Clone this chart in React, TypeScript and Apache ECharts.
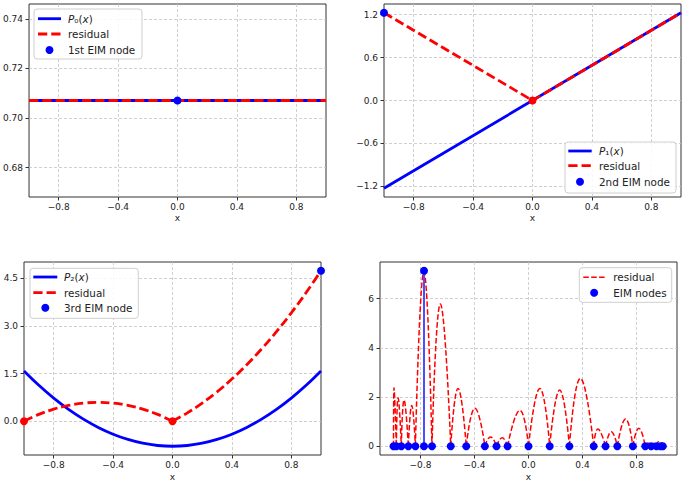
import React, { useEffect, useRef } from 'react';
import * as echarts from 'echarts';

const FONT = 'DejaVu Sans';
const BLUE = '#0000ff';
const RED = '#ff0000';
const TEXT = '#222222';

// ---------- Panel 1 : P0 ----------
const p0X = [-1, 1];
const p0Values = [0.7071, 0.7071];
const p0Residual = [0.7071, 0.7071];
const p0NewNode = [0, 0.7071];

// ---------- Panel 2 : P1 ----------
const p1X = [-1, 1];
const p1Values = [-1.2247, 1.2247];
const p1ResX = [-1, 0, 1];
const p1Residual = [1.2247, 0, 1.2247];
const p1OldNodes = [[0, 0]];
const p1NewNode = [-1, 1.2247];

// ---------- Panel 3 : P2 ----------
const p2X = [-1, -0.9, -0.8, -0.7, -0.6, -0.5, -0.4, -0.3, -0.2, -0.1, 0, 0.1, 0.2, 0.3, 0.4, 0.5, 0.6, 0.7, 0.8, 0.9, 1];
const p2Values = [1.581, 1.13, 0.727, 0.371, 0.063, -0.198, -0.411, -0.577, -0.696, -0.767, -0.791, -0.767, -0.696, -0.577, -0.411, -0.198, 0.063, 0.371, 0.727, 1.13, 1.581];
const p2Residual = [0, 0.213, 0.379, 0.498, 0.569, 0.593, 0.569, 0.498, 0.379, 0.213, 0, 0.261, 0.569, 0.925, 1.328, 1.779, 2.277, 2.822, 3.415, 4.056, 4.743];
const p2OldNodes = [[-1, 0], [0, 0]];
const p2NewNode = [1, 4.743];

// ---------- Panel 4 : all EIM nodes ----------
const eimNodesX = [-1.0, -0.979, -0.942, -0.89, -0.838, -0.774, -0.715, -0.576, -0.461, -0.323, -0.237, -0.155, 0, 0.157, 0.303, 0.483, 0.571, 0.658, 0.773, 0.865, 0.909, 0.948, 0.978, 0.995];
const resZerosX = [-1.0, -0.979, -0.942, -0.89, -0.838, -0.715, -0.576, -0.461, -0.323, -0.237, -0.155, 0, 0.157, 0.303, 0.483, 0.571, 0.658, 0.773, 0.865, 0.909, 0.948, 0.978, 0.995, 1.0];
const resPeakX = [-0.996, -0.966, -0.922, -0.865, -0.775, -0.653, -0.522, -0.397, -0.281, -0.195, -0.064, 0.084, 0.231, 0.384, 0.514, 0.613, 0.719, 0.817, 0.886, 0.929, 0.963, 0.987, 0.998];
const resPeakY = [2.38, 1.97, 1.88, 1.66, 7.1, 5.78, 2.35, 1.54, 0.38, 0.34, 1.46, 2.35, 2.28, 2.76, 0.7, 0.59, 1.11, 0.73, 0.13, 0.12, 0.18, 0.14, 0.05];
const maxResNode = [-0.774, 7.13];

// ---------- ticks ----------
const xTicks = [-0.8, -0.4, 0, 0.4, 0.8];
const y1Ticks = [0.68, 0.7, 0.72, 0.74];
const y2Ticks = [-1.2, -0.6, 0, 0.6, 1.2];
const y3Ticks = [0, 1.5, 3, 4.5];
const y4Ticks = [0, 2, 4, 6];

const zip = (xs: number[], ys: number[]) => xs.map((x, i) => [x, ys[i]]);

function fmt(v: number, d: number) {
  const s = Math.abs(v).toFixed(d);
  return (v < -1e-9 ? '\u2212' : '') + s;
}

function xAxis(gridIndex: number, min: number, max: number, nameGap: number) {
  return {
    type: 'value',
    gridIndex,
    min,
    max,
    name: 'x',
    nameLocation: 'middle',
    nameGap,
    nameTextStyle: { fontFamily: FONT, fontSize: 9, color: TEXT },
    axisLine: { show: false, onZero: false },
    axisTick: { show: true, length: 3.5, inside: false, customValues: xTicks, lineStyle: { color: '#333', width: 1 } },
    axisLabel: { customValues: xTicks, margin: 5, fontFamily: FONT, fontSize: 9, color: TEXT, formatter: (v: number) => fmt(v, 1) },
    splitLine: { show: true, lineStyle: { color: '#c4c4c4', width: 0.8, type: [3, 2] } },
  };
}

function yAxis(gridIndex: number, min: number, max: number, ticks: number[], dec: number) {
  return {
    type: 'value',
    gridIndex,
    min,
    max,
    axisLine: { show: false, onZero: false },
    axisTick: { show: true, length: 3.5, inside: false, customValues: ticks, lineStyle: { color: '#333', width: 1 } },
    axisLabel: { customValues: ticks, margin: 6, fontFamily: FONT, fontSize: 9, color: TEXT, formatter: (v: number) => fmt(v, dec) },
    splitLine: { show: true, lineStyle: { color: '#c4c4c4', width: 0.8, type: [3, 2] } },
  };
}

const gridBase = { show: true, borderColor: '#333', borderWidth: 1, backgroundColor: 'transparent' };

function lineSeries(ai: number, data: any[], color: string, width: number, dash: number[] | null, smooth: number | boolean = false) {
  return {
    type: 'line',
    xAxisIndex: ai,
    yAxisIndex: ai,
    data,
    smooth,
    symbol: 'none',
    showSymbol: false,
    silent: true,
    connectNulls: false,
    lineStyle: { color, width, type: dash ? dash : 'solid', cap: 'butt', opacity: 1 },
  };
}

function dotSeries(ai: number, data: any[], color: string) {
  return {
    type: 'scatter',
    xAxisIndex: ai,
    yAxisIndex: ai,
    data,
    symbol: 'circle',
    symbolSize: 8,
    silent: true,
    clip: false,
    itemStyle: { color, opacity: 1 },
    z: 5,
  };
}

// split curve at x = 0 for panel 3 residual (kink)
const p2ResidualData: any[] = [
  ...zip(p2X.slice(0, 11), p2Residual.slice(0, 11)),
  '-',
  ...zip(p2X.slice(10), p2Residual.slice(10)),
];

// panel 4 residual: one arch per interval between zeros
const p4ResidualData: any[] = [];
resPeakX.forEach((px, i) => {
  if (i > 0) p4ResidualData.push('-');
  p4ResidualData.push([resZerosX[i], 0], [px, resPeakY[i]], [resZerosX[i + 1], 0]);
});

// ---------- legends drawn as graphics ----------
type Entry = { kind: 'solid' | 'dash' | 'thin' | 'dot'; color: string; text: string };

function legend(bx: number, by: number, bw: number, bh: number, lx1: number, lx2: number, tx: number, ys: number[], entries: Entry[]) {
  const els: any[] = [
    {
      type: 'rect',
      shape: { x: bx, y: by, width: bw, height: bh, r: 3 },
      style: { fill: 'rgba(255,255,255,0.85)', stroke: '#cfcfcf', lineWidth: 1 },
      z: 100,
    },
  ];
  entries.forEach((e, i) => {
    const y = ys[i];
    if (e.kind === 'dot') {
      els.push({ type: 'circle', shape: { cx: (lx1 + lx2) / 2, cy: y, r: 4 }, style: { fill: e.color }, z: 101 });
    } else {
      const w = e.kind === 'thin' ? 1.5 : 2.8;
      const dash = e.kind === 'dash' ? [9.25, 4] : e.kind === 'thin' ? [5.5, 2.4] : null;
      els.push({
        type: 'line',
        shape: { x1: lx1, y1: y, x2: lx2, y2: y },
        style: { stroke: e.color, lineWidth: w, lineDash: dash || undefined },
        z: 101,
      });
    }
    els.push({
      type: 'text',
      x: tx,
      y,
      style: {
        text: e.text,
        fontFamily: FONT,
        fontSize: 10.4,
        fill: TEXT,
        align: 'left',
        verticalAlign: 'middle',
        rich: { i: { fontStyle: 'italic', fontFamily: FONT, fontSize: 10.4, fill: TEXT } },
      },
      z: 102,
    });
  });
  return els;
}

const graphics = [
  ...legend(34, 9, 108, 50, 38, 61, 68, [18.7, 34, 50], [
    { kind: 'solid', color: BLUE, text: '{i|P}\u2080({i|x})' },
    { kind: 'dash', color: RED, text: 'residual' },
    { kind: 'dot', color: BLUE, text: '1st EIM node' },
  ]),
  ...legend(565, 142, 111, 51, 568.3, 591.7, 599, [151, 165.7, 181.8], [
    { kind: 'solid', color: BLUE, text: '{i|P}\u2081({i|x})' },
    { kind: 'dash', color: RED, text: 'residual' },
    { kind: 'dot', color: BLUE, text: '2nd EIM node' },
  ]),
  ...legend(30, 268.3, 108.3, 50, 33.3, 57.3, 64, [277, 292.7, 307.7], [
    { kind: 'solid', color: BLUE, text: '{i|P}\u2082({i|x})' },
    { kind: 'dash', color: RED, text: 'residual' },
    { kind: 'dot', color: BLUE, text: '3rd EIM node' },
  ]),
  ...legend(579.3, 267.7, 92.4, 34.6, 583.3, 605, 613.3, [277.3, 292.7], [
    { kind: 'thin', color: RED, text: 'residual' },
    { kind: 'dot', color: BLUE, text: 'EIM nodes' },
  ]),
];

const option: any = {
  animation: false,
  backgroundColor: '#ffffff',
  textStyle: { fontFamily: FONT },
  grid: [
    { ...gridBase, left: 29, top: 4, width: 297, height: 193 },
    { ...gridBase, left: 384, top: 4, width: 297, height: 193 },
    { ...gridBase, left: 24, top: 262, width: 297, height: 193 },
    { ...gridBase, left: 380, top: 262, width: 297, height: 193 },
  ],
  xAxis: [
    xAxis(0, -1, 1, 16),
    xAxis(1, -1, 1, 16),
    xAxis(2, -1, 1, 17.5),
    xAxis(3, -1.1, 1.1, 17.5),
  ],
  yAxis: [
    yAxis(0, 0.6682, 0.746, y1Ticks, 2),
    yAxis(1, -1.3472, 1.3472, y2Ticks, 1),
    yAxis(2, -1.067, 5.02, y3Ticks, 1),
    yAxis(3, -0.3565, 7.4865, y4Ticks, 0),
  ],
  series: [
    // panel 1
    lineSeries(0, zip(p0X, p0Values), BLUE, 2.8, null),
    lineSeries(0, zip(p0X, p0Residual), RED, 2.8, [9.25, 4]),
    dotSeries(0, [p0NewNode], BLUE),
    // panel 2
    lineSeries(1, zip(p1X, p1Values), BLUE, 2.8, null),
    lineSeries(1, zip(p1ResX, p1Residual), RED, 2.8, [9.25, 4]),
    dotSeries(1, p1OldNodes, RED),
    dotSeries(1, [p1NewNode], BLUE),
    // panel 3
    lineSeries(2, zip(p2X, p2Values), BLUE, 2.8, null, 0.4),
    lineSeries(2, p2ResidualData, RED, 2.8, [9.25, 4], 0.4),
    dotSeries(2, p2OldNodes, RED),
    dotSeries(2, [p2NewNode], BLUE),
    // panel 4
    lineSeries(3, p4ResidualData, RED, 1.5, [5.5, 2.4], 0.5),
    {
      ...lineSeries(3, [[maxResNode[0], 0], maxResNode], '#4d4dff', 2, null),
      z: 4,
    },
    dotSeries(3, eimNodesX.map((x) => [x, 0]), BLUE),
    dotSeries(3, [maxResNode], BLUE),
  ],
  graphic: graphics,
};

export default function App() {
  const ref = useRef<HTMLDivElement>(null);
  useEffect(() => {
    if (!ref.current) return;
    const chart = echarts.init(ref.current, null, { renderer: 'svg' });
    chart.setOption(option);
    return () => chart.dispose();
  }, []);
  return <div ref={ref} style={{ position: 'absolute', left: 0, top: 0, width: 685, height: 485 }} />;
}
